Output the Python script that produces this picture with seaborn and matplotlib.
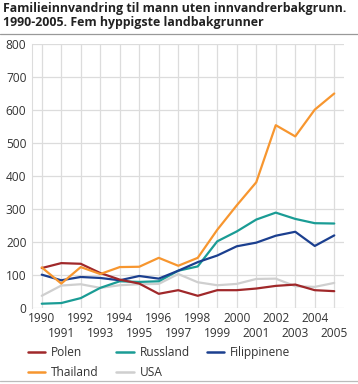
import numpy as np
import pandas as pd
import seaborn as sns
import matplotlib.pyplot as plt
from matplotlib.lines import Line2D

aar = list(range(1990, 2006))

polen = [121, 136, 134, 106, 86, 74, 43, 54, 37, 54, 54, 59, 67, 71, 54, 51]
russland = [13, 15, 30, 61, 81, 79, 81, 113, 126, 202, 232, 268, 289, 270, 257, 256]
filippinene = [101, 84, 94, 91, 84, 97, 89, 113, 139, 159, 187, 198, 219, 231, 188, 220]
thailand = [123, 74, 124, 103, 124, 125, 152, 128, 152, 237, 311, 381, 554, 520, 601, 650]
usa = [37, 68, 72, 61, 69, 72, 73, 103, 78, 69, 73, 88, 89, 66, 64, 76]

land = ["Polen", "Russland", "Filippinene", "Thailand", "USA"]
farger = {"Polen": "#a0282a", "Russland": "#1a9c95", "Filippinene": "#1b3f8f",
          "Thailand": "#f7962f", "USA": "#cfcfcf"}

tabell = pd.DataFrame({"aar": aar, "Polen": polen, "Russland": russland,
                       "Filippinene": filippinene, "Thailand": thailand, "USA": usa})
lang = tabell.melt(id_vars="aar", var_name="land", value_name="antall")

sns.set_style("white")
plt.rcParams["font.family"] = ["Open Sans", "DejaVu Sans"]

fig = plt.figure(figsize=(3.58, 3.84), dpi=100)
ax = fig.add_axes([32 / 358, 1 - 308 / 384, 312 / 358, 264 / 384])

# grå linje (USA) tegnes først, slik at de andre ligger over
rekkefolge = ["USA", "Russland", "Filippinene", "Polen", "Thailand"]
for l in rekkefolge:
    sns.lineplot(data=lang[lang["land"] == l], x="aar", y="antall", color=farger[l],
                 linewidth=1.6, ax=ax, legend=False)

ax.set_xlim(1989.5, 2005.5)
ax.set_ylim(0, 800)
ax.set_yticks(range(0, 801, 100))
# partall på første rad, oddetall på andre rad
partall = [a for a in aar if a % 2 == 0]
oddetall = [a for a in aar if a % 2 == 1]
ax.set_xticks(partall)
ax.set_xticklabels([str(a) for a in partall])
ax.set_xticks(oddetall, minor=True)
ax.set_xticklabels([str(a) for a in oddetall], minor=True)
ax.set_xlabel("")
ax.set_ylabel("")

ax.grid(True, which="major", color="#dcdcdc", linewidth=0.9)
ax.grid(True, which="minor", axis="x", color="#dcdcdc", linewidth=0.9)
ax.set_axisbelow(True)
for s in ax.spines.values():
    s.set_visible(False)
ax.spines["left"].set_visible(True)
ax.spines["left"].set_color("#dcdcdc")
ax.tick_params(axis="both", which="both", length=0, labelsize=8.6, colors="#333333")
ax.tick_params(axis="y", pad=4)
ax.tick_params(axis="x", which="major", pad=3)
ax.tick_params(axis="x", which="minor", pad=14)

fig.text(0.008, 1 - 2 / 384, "Familieinnvandring til mann uten innvandrerbakgrunn.\n1990-2005. Fem hyppigste landbakgrunner",
         fontsize=8.9, fontweight="bold", va="top", ha="left", color="#222222", linespacing=1.1)
fig.add_artist(Line2D([0, 1], [1 - 34 / 384, 1 - 34 / 384], color="#999999", linewidth=0.9))
fig.add_artist(Line2D([0, 1], [1 - 381 / 384, 1 - 381 / 384], color="#bbbbbb", linewidth=0.9))

# legende radvis: Polen, Russland, Filippinene / Thailand, USA
leg_orden = ["Polen", "Thailand", "Russland", "USA", "Filippinene"]
handles = [Line2D([], [], color=farger[l], linewidth=1.8) for l in leg_orden]
fig.legend(handles, leg_orden, ncol=3, loc="upper left",
           bbox_to_anchor=(28 / 358, 1 - 346 / 384), frameon=False, fontsize=8.6,
           handlelength=1.45, handletextpad=0.5, columnspacing=1.45, labelspacing=0.6,
           borderaxespad=0, borderpad=0, labelcolor="#333333")

fig.savefig("out.png", dpi=100)
